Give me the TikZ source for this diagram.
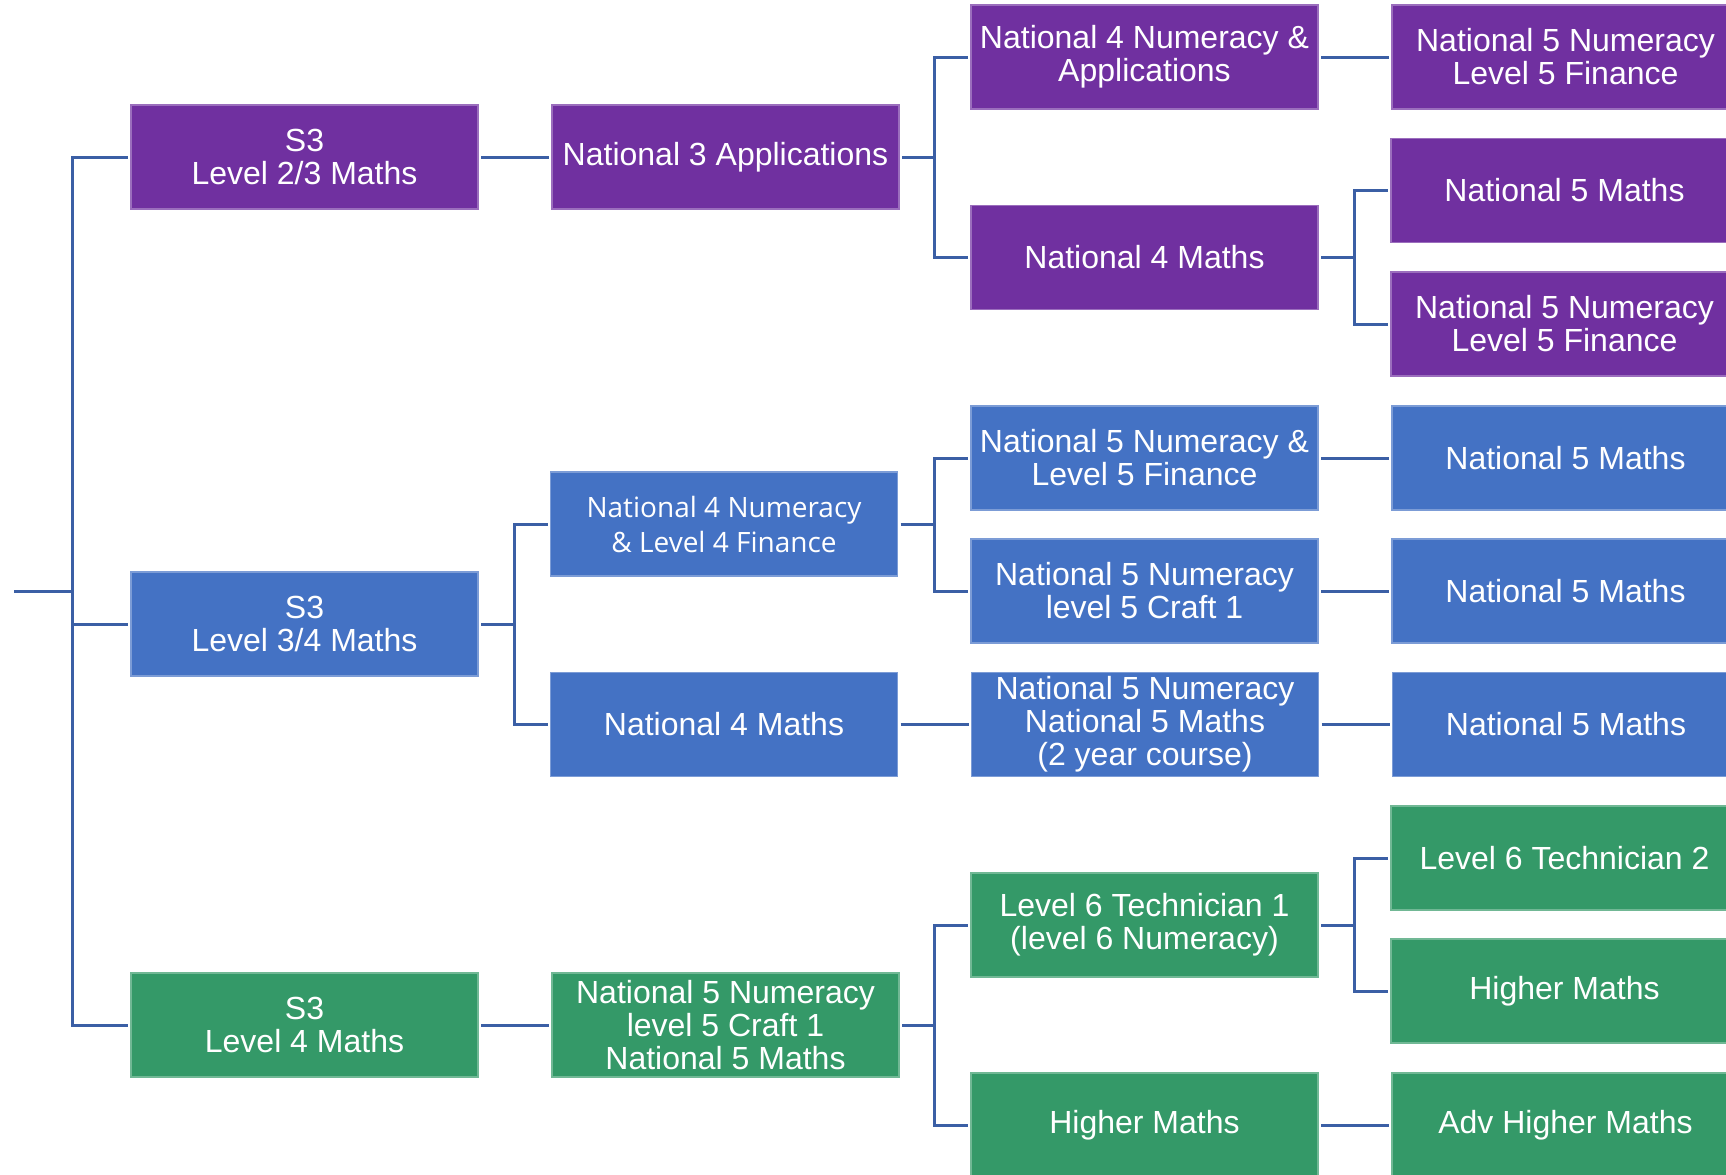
\documentclass[tikz,border=0pt]{standalone}
\usepackage{fontspec}
\setmainfont{Liberation Sans}
\newfontfamily\segoefont{Open Sans}
\usepackage{tikz}
\usetikzlibrary{positioning}
\usepackage{xcolor}
\definecolor{pathpurple}{RGB}{112,48,160}
\definecolor{pathblue}{RGB}{68,114,196}
\definecolor{pathgreen}{RGB}{52,153,104}
\definecolor{linkblue}{RGB}{59,95,165}
\tikzstyle{course} = [rectangle, minimum width=173.5pt, minimum height=52pt, inner sep=1pt, outer sep=1.5pt, align=center, text=white, font=\fontsize{16}{16.5}\selectfont, line width=0.6pt]
\tikzstyle{purplebox} = [course, fill=pathpurple, draw=pathpurple!70!white]
\tikzstyle{bluebox} = [course, fill=pathblue, draw=pathblue!70!white]
\tikzstyle{greenbox} = [course, fill=pathgreen, draw=pathgreen!70!white]
\tikzstyle{link} = [line width=1.5pt, color=linkblue]

\begin{document}
\begin{tikzpicture}[x=0.5pt, y=-0.5pt, node distance=34pt]
\useasboundingbox (0,0) rectangle (1726,1174);

% Fork positions
\coordinate (root) at (14,591);
\coordinate (fork_a) at (72,0);
\coordinate (fork_b) at (514,0);
\coordinate (fork_c) at (934.5,0);
\coordinate (fork_d) at (1354,0);

% Level 2/3 route
\node (s3_a) [purplebox] at (304.5,157) {S3\\Level 2/3 Maths};
\node (n3_app) [purplebox, right=of s3_a] {National 3 Applications};
\node (n4_numapp) [purplebox] at (1144.5,57) {National 4 Numeracy \&\\Applications};
\node (n5_numfin_a) [purplebox, right=of n4_numapp] {National 5 Numeracy\\Level 5 Finance};
\node (n4_maths_a) [purplebox] at (1144.5,257.5) {National 4 Maths};
\node (n5_maths_a) [purplebox] at (1564.5,190.5) {National 5 Maths};
\node (n5_numfin_b) [purplebox] at (1564.5,324) {National 5 Numeracy\\Level 5 Finance};

% Level 3/4 route
\node (s3_b) [bluebox] at (304.5,624) {S3\\Level 3/4 Maths};
\node (n4_numfin) [bluebox, font=\segoefont\fontsize{14}{17.5}\selectfont] at (724,524) {National 4 Numeracy\\\& Level 4 Finance};
\node (n4_maths_b) [bluebox] at (724,724.5) {National 4 Maths};
\node (n5_numfin_c) [bluebox] at (1144.5,458) {National 5 Numeracy \&\\Level 5 Finance};
\node (n5_craft) [bluebox] at (1144.5,591) {National 5 Numeracy\\level 5 Craft 1};
\node (n5_twoyear) [bluebox, right=of n4_maths_b] {National 5 Numeracy\\National 5 Maths\\(2 year course)};
\node (n5_maths_c) [bluebox, right=of n5_numfin_c] {National 5 Maths};
\node (n5_maths_d) [bluebox, right=of n5_craft] {National 5 Maths};
\node (n5_maths_e) [bluebox, right=of n5_twoyear] {National 5 Maths};

% Level 4 route
\node (s3_c) [greenbox] at (304.5,1025) {S3\\Level 4 Maths};
\node (n5_mix) [greenbox, right=of s3_c] {National 5 Numeracy\\level 5 Craft 1\\National 5 Maths};
\node (l6_tech1) [greenbox] at (1144.5,925) {Level 6 Technician 1\\(level 6 Numeracy)};
\node (higher_a) [greenbox] at (1144.5,1125) {Higher Maths};
\node (l6_tech2) [greenbox] at (1564.5,858) {Level 6 Technician 2};
\node (higher_b) [greenbox] at (1564.5,991) {Higher Maths};
\node (adv_higher) [greenbox, right=of higher_a] {Adv Higher Maths};

% Connectors
\draw[link] (root) -- (root -| fork_a);
\foreach \n in {s3_a,s3_b,s3_c}
  \draw[link] (root -| fork_a) |- (\n.west);

\draw[link] (s3_a.east) -- (n3_app.west);
\draw[link] (n3_app.east) -- (n3_app.east -| fork_c) |- (n4_numapp.west);
\draw[link] (n3_app.east -| fork_c) |- (n4_maths_a.west);
\draw[link] (n4_numapp.east) -- (n5_numfin_a.west);
\draw[link] (n4_maths_a.east) -- (n4_maths_a.east -| fork_d) |- (n5_maths_a.west);
\draw[link] (n4_maths_a.east -| fork_d) |- (n5_numfin_b.west);

\draw[link] (s3_b.east) -- (s3_b.east -| fork_b) |- (n4_numfin.west);
\draw[link] (s3_b.east -| fork_b) |- (n4_maths_b.west);
\draw[link] (n4_numfin.east) -- (n4_numfin.east -| fork_c) |- (n5_numfin_c.west);
\draw[link] (n4_numfin.east -| fork_c) |- (n5_craft.west);
\draw[link] (n4_maths_b.east) -- (n5_twoyear.west);
\draw[link] (n5_numfin_c.east) -- (n5_maths_c.west);
\draw[link] (n5_craft.east) -- (n5_maths_d.west);
\draw[link] (n5_twoyear.east) -- (n5_maths_e.west);

\draw[link] (s3_c.east) -- (n5_mix.west);
\draw[link] (n5_mix.east) -- (n5_mix.east -| fork_c) |- (l6_tech1.west);
\draw[link] (n5_mix.east -| fork_c) |- (higher_a.west);
\draw[link] (l6_tech1.east) -- (l6_tech1.east -| fork_d) |- (l6_tech2.west);
\draw[link] (l6_tech1.east -| fork_d) |- (higher_b.west);
\draw[link] (higher_a.east) -- (adv_higher.west);
\end{tikzpicture}
\end{document}
